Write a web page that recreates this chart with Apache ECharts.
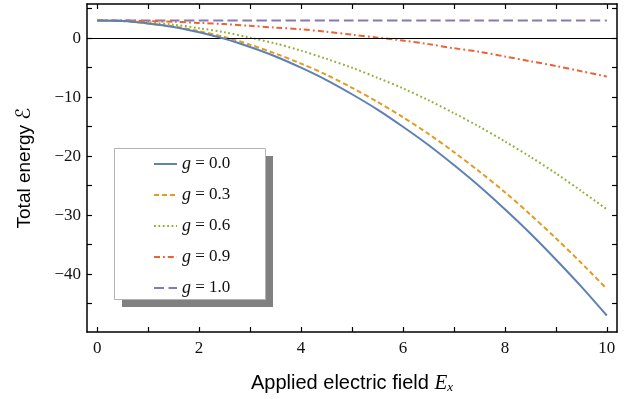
<!DOCTYPE html>
<html>
<head>
<meta charset="utf-8">
<script src="https://cdn.jsdelivr.net/npm/echarts@6/dist/echarts.min.js"></script>
<style>html,body{margin:0;padding:0;background:#fff;}#c{width:633px;height:399px;}</style>
</head>
<body>
<div id="c"></div>
<script>
var fieldValues = [0,0.5,1,1.5,2,2.5,3,3.5,4,4.5,5,5.5,6,6.5,7,7.5,8,8.5,9,9.5,10];
var energyG00 = [3,2.9,2.5,1.9,1.0,-0.1,-1.5,-3.1,-5.0,-7.1,-9.5,-12.1,-15.0,-18.1,-21.5,-25.1,-29.0,-33.1,-37.5,-42.1,-47.0];
var energyG03 = [3,2.9,2.5,2.0,1.2,0.2,-1.1,-2.6,-4.3,-6.2,-8.4,-10.8,-13.4,-16.2,-19.3,-22.6,-26.1,-29.9,-33.9,-38.1,-42.5];
var energyG06 = [3,2.9,2.7,2.3,1.7,1.0,0.1,-0.9,-2.1,-3.5,-5.0,-6.7,-8.5,-10.5,-12.7,-15.0,-17.5,-20.1,-22.9,-25.9,-29.0];
var energyG09 = [3,3.0,2.9,2.8,2.6,2.4,2.1,1.8,1.5,1.1,0.6,0.1,-0.4,-1.0,-1.7,-2.3,-3.1,-3.9,-4.7,-5.6,-6.5];
var energyG10 = [3,3,3,3,3,3,3,3,3,3,3,3,3,3,3,3,3,3,3,3,3];
var seriesNames = ['g = 0.0','g = 0.3','g = 0.6','g = 0.9','g = 1.0'];
var xTickValues = [0,1,2,3,4,5,6,7,8,9,10];
var xLabelValues = [0,2,4,6,8,10];
var yTickValues = [0,-5,-10,-15,-20,-25,-30,-35,-40,-45,5];
var yLabelValues = [0,-10,-20,-30,-40];

function pairs(ys){ return fieldValues.map(function(x,i){return [x, ys[i]];}); }

var colors = ['#5E81B5','#E19C24','#8FB032','#EB6235','#8778B3'];
var dashes = ['solid',[5,3],[1.8,2.6],[6,3,1.8,3],[10,4.5]];
var allData = [energyG00,energyG03,energyG06,energyG09,energyG10];

var serif = 'Liberation Serif';
var sans = 'Liberation Sans';

var series = allData.map(function(d,i){
  var s = {
    type:'line', name:seriesNames[i], data:pairs(d), smooth:0.3,
    showSymbol:false, symbol:'none',
    lineStyle:{color:colors[i], width:2, type:dashes[i]},
    itemStyle:{color:colors[i]},
    z: 5 - i
  };
  if(i===0){
    s.markLine = {silent:true, symbol:'none', label:{show:false}, animation:false,
      lineStyle:{color:'#000', width:1, type:'solid'}, data:[{yAxis:0}]};
  }
  return s;
});

function minusFmt(v){ return String(v).replace('-', '\u2212'); }

var axisLineStyle = {color:'#000', width:1.5};
var chart = echarts.init(document.getElementById('c'), null, {renderer:'canvas'});
chart.setOption({
  animation:false,
  color:colors,
  grid:{left:87, right:16, top:4, bottom:67},
  xAxis:[{
    type:'value', min:-0.2, max:10.2, position:'bottom',
    axisLine:{show:true, onZero:false, lineStyle:axisLineStyle},
    axisTick:{show:true, inside:true, length:5, lineStyle:{color:'#000', width:1.2}, customValues:xTickValues},
    axisLabel:{show:true, customValues:xLabelValues, fontFamily:serif, fontSize:17, color:'#111', margin:8, formatter:minusFmt},
    splitLine:{show:false},
    name:'{a|Applied electric field }{i|E}{s|x}', nameLocation:'middle', nameGap:40,
    nameTextStyle:{rich:{
      a:{fontFamily:sans, fontSize:20, color:'#000'},
      i:{fontFamily:serif, fontStyle:'italic', fontSize:21, color:'#000'},
      s:{fontFamily:serif, fontStyle:'italic', fontSize:13, color:'#000', padding:[9,0,0,0]}
    }}
  },{
    type:'value', min:-0.2, max:10.2, position:'top',
    axisLine:{show:true, onZero:false, lineStyle:axisLineStyle},
    axisTick:{show:true, inside:true, length:5, lineStyle:{color:'#000', width:1.2}, customValues:xTickValues},
    axisLabel:{show:false}, splitLine:{show:false}
  }],
  yAxis:[{
    type:'value', min:-49.8, max:5.8, position:'left',
    axisLine:{show:true, onZero:false, lineStyle:axisLineStyle},
    axisTick:{show:true, inside:true, length:5, lineStyle:{color:'#000', width:1.2}, customValues:yTickValues},
    axisLabel:{show:true, customValues:yLabelValues, fontFamily:serif, fontSize:17, color:'#111', margin:6, formatter:minusFmt},
    splitLine:{show:false},
    name:'{a|Total energy }{i|\u2130}', nameLocation:'middle', nameGap:52,
    nameTextStyle:{rich:{
      a:{fontFamily:sans, fontSize:19, color:'#000'},
      i:{fontFamily:'DejaVu Sans', fontSize:20, color:'#000'}
    }}
  },{
    type:'value', min:-49.8, max:5.8, position:'right',
    axisLine:{show:true, onZero:false, lineStyle:axisLineStyle},
    axisTick:{show:true, inside:true, length:5, lineStyle:{color:'#000', width:1.2}, customValues:yTickValues},
    axisLabel:{show:false}, splitLine:{show:false}
  }],
  graphic:[
    {type:'rect', z:3, shape:{x:122, y:156, width:151, height:151}, style:{fill:'#808080'}, silent:true},
    {type:'rect', z:3, shape:{x:114.5, y:148.5, width:151, height:151}, style:{fill:'#fff', stroke:'#b4b4b4', lineWidth:1}, silent:true}
  ],
  legend:{
    orient:'vertical', left:148, top:150, z:10,
    itemWidth:23, itemHeight:14, itemGap:13,
    itemStyle:{opacity:0},
    data:seriesNames,
    formatter:function(n){ return '{i|g}{t|' + n.slice(1) + '}'; },
    textStyle:{fontFamily:serif, fontSize:17, color:'#111', padding:[0,0,0,0], rich:{
      i:{fontFamily:serif, fontStyle:'italic', fontSize:18, color:'#111'},
      t:{fontFamily:serif, fontSize:17, color:'#111'}
    }}
  },
  series:series
});
</script>
</body>
</html>
